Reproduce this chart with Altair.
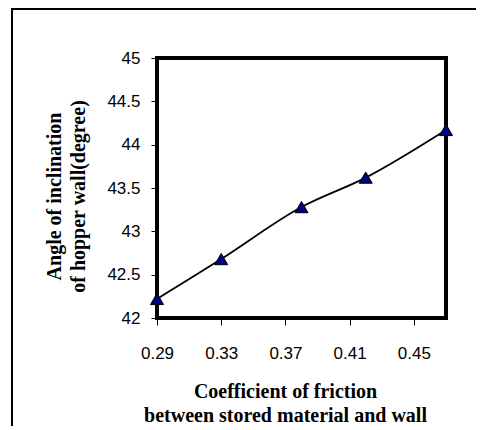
import altair as alt
import pandas as pd

# Data
friction = [0.29, 0.33, 0.38, 0.42, 0.47]
angle = [42.22, 42.68, 43.28, 43.62, 44.17]
x_ticks = [0.29, 0.33, 0.37, 0.41, 0.45]
y_ticks = [42, 42.5, 43, 43.5, 44, 44.5, 45]
x_title = ["Coefficient of friction", "between stored material and wall"]
y_title = ["Angle of inclination", "of hopper wall(degree)"]

df = pd.DataFrame({"friction": friction, "angle": angle})

common_axis = dict(
    grid=False,
    domain=False,
    tickColor="black",
    tickWidth=1,
    labelFont="Liberation Sans",
    labelFontSize=17,
    labelColor="black",
    labelFlush=False,
    labelOverlap=False,
    titleFont="Liberation Serif",
    titleFontSize=20,
    titleFontWeight="bold",
    titleColor="black",
    titleLineHeight=24,
    titleBaseline="alphabetic",
    titleAlign="center",
)

x_enc = alt.X(
    "friction:Q",
    scale=alt.Scale(domain=[0.29, 0.47], nice=False, zero=False),
    axis=alt.Axis(
        values=x_ticks, format=".2f", title=x_title,
        tickSize=7, labelPadding=20, titleX=128, titleY=79,
        **common_axis,
    ),
)
y_enc = alt.Y(
    "angle:Q",
    scale=alt.Scale(domain=[42, 45], nice=False, zero=False),
    axis=alt.Axis(
        values=y_ticks, format="~g", title=y_title,
        tickSize=6, labelPadding=11, titleX=-97, titleY=138, titleAngle=270,
        **common_axis,
    ),
)

border = alt.Chart(pd.DataFrame({"k": [0]})).mark_rect(
    fill="transparent", stroke="black", strokeWidth=2
).encode(
    x=alt.value(-145), x2=alt.value(700), y=alt.value(-49), y2=alt.value(700)
)

line = alt.Chart(df).mark_line(
    color="black", strokeWidth=1.8, interpolate="monotone"
).encode(x=x_enc, y=y_enc)

points = alt.Chart(df).mark_point(
    shape="triangle-up", filled=True, fill="#000080", stroke="black",
    strokeWidth=1, size=170, opacity=1
).encode(x=x_enc, y=y_enc)

chart = alt.layer(border, line, points).properties(
    width=289, height=260,
    autosize=alt.AutoSizeParams(type="none"),
    padding={"left": 149, "top": 50, "right": 30, "bottom": 108},
    background="white",
).configure_view(stroke="black", strokeWidth=4)

chart.save("out.html", embed_options={"renderer": "svg", "actions": False})
